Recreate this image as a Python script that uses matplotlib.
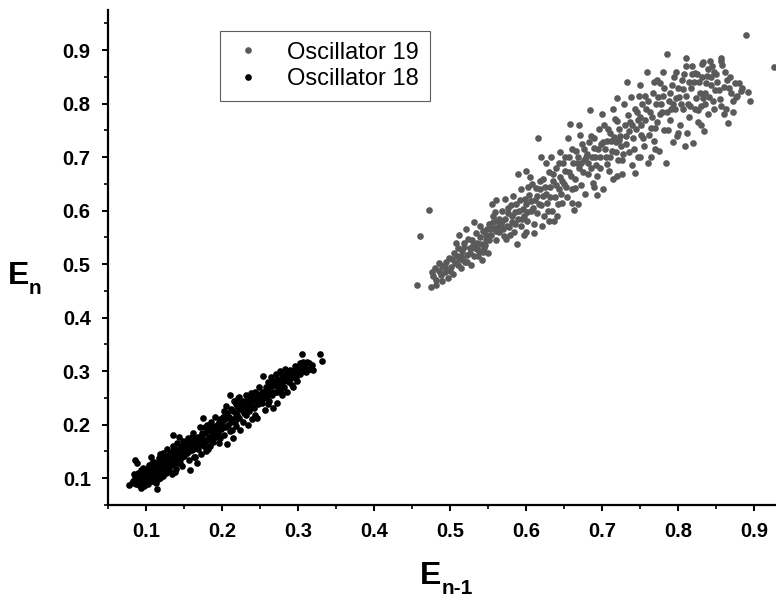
import matplotlib
matplotlib.use("Agg")
import matplotlib.pyplot as plt
from matplotlib.ticker import MultipleLocator

plt.rcParams["font.family"] = ["Liberation Sans", "DejaVu Sans"]

# Oscillator 19 (grey cloud)
osc19 = [
    (0.457, 0.461), (0.475, 0.457), (0.461, 0.553), (0.472, 0.602), (0.478, 0.478), (0.482, 0.470),
    (0.485, 0.488), (0.480, 0.492), (0.488, 0.480), (0.490, 0.497), (0.493, 0.485), (0.495, 0.505),
    (0.497, 0.475), (0.499, 0.512), (0.476, 0.485), (0.486, 0.502),
    (0.502, 0.495), (0.505, 0.520), (0.507, 0.503), (0.510, 0.530), (0.512, 0.510), (0.514, 0.492),
    (0.516, 0.525), (0.518, 0.540), (0.520, 0.505), (0.522, 0.518), (0.524, 0.548), (0.526, 0.530),
    (0.528, 0.498), (0.530, 0.535), (0.532, 0.515), (0.534, 0.558), (0.536, 0.540), (0.538, 0.525),
    (0.540, 0.550), (0.542, 0.508), (0.544, 0.562), (0.546, 0.535), (0.548, 0.545), (0.550, 0.520),
    (0.508, 0.540), (0.521, 0.566), (0.531, 0.578), (0.503, 0.510), (0.515, 0.515), (0.535, 0.528),
    (0.545, 0.530), (0.549, 0.565), (0.539, 0.572), (0.512, 0.555),
    (0.552, 0.575), (0.554, 0.555), (0.556, 0.590), (0.558, 0.568), (0.560, 0.545), (0.562, 0.580),
    (0.564, 0.560), (0.566, 0.572), (0.568, 0.600), (0.570, 0.565), (0.572, 0.585), (0.574, 0.548),
    (0.576, 0.595), (0.578, 0.570), (0.580, 0.610), (0.582, 0.578), (0.584, 0.560), (0.586, 0.598),
    (0.588, 0.537), (0.589, 0.668), (0.590, 0.585), (0.592, 0.620), (0.594, 0.572), (0.596, 0.603),
    (0.598, 0.590), (0.555, 0.612), (0.563, 0.569), (0.567, 0.575), (0.571, 0.552), (0.579, 0.555),
    (0.583, 0.628), (0.597, 0.555), (0.559, 0.598), (0.573, 0.622), (0.593, 0.640),
    (0.600, 0.612), (0.602, 0.580), (0.604, 0.630), (0.606, 0.600), (0.608, 0.650), (0.610, 0.575),
    (0.612, 0.620), (0.614, 0.595), (0.616, 0.736), (0.618, 0.640), (0.620, 0.610), (0.622, 0.660),
    (0.624, 0.590), (0.626, 0.632), (0.628, 0.615), (0.630, 0.672), (0.632, 0.645), (0.634, 0.600),
    (0.636, 0.655), (0.638, 0.625), (0.640, 0.680), (0.641, 0.590), (0.643, 0.640), (0.645, 0.662),
    (0.647, 0.615), (0.649, 0.690), (0.605, 0.662), (0.613, 0.642), (0.621, 0.572), (0.633, 0.700),
    (0.637, 0.580), (0.646, 0.632), (0.611, 0.558), (0.627, 0.690),
    (0.650, 0.650), (0.652, 0.700), (0.654, 0.625), (0.656, 0.672), (0.658, 0.762), (0.660, 0.640),
    (0.662, 0.690), (0.664, 0.660), (0.666, 0.712), (0.668, 0.612), (0.670, 0.680), (0.672, 0.648),
    (0.674, 0.725), (0.676, 0.695), (0.678, 0.632), (0.680, 0.705), (0.682, 0.668), (0.684, 0.788),
    (0.686, 0.740), (0.688, 0.652), (0.690, 0.718), (0.692, 0.685), (0.694, 0.630), (0.696, 0.752),
    (0.698, 0.700), (0.655, 0.735), (0.663, 0.602), (0.671, 0.742), (0.679, 0.700), (0.687, 0.700),
    (0.693, 0.665), (0.699, 0.725), (0.667, 0.690), (0.675, 0.672),
    (0.701, 0.640), (0.703, 0.760), (0.705, 0.700), (0.707, 0.730), (0.709, 0.675), (0.711, 0.745),
    (0.713, 0.712), (0.715, 0.660), (0.717, 0.772), (0.719, 0.728), (0.721, 0.695), (0.723, 0.752),
    (0.725, 0.720), (0.727, 0.668), (0.729, 0.800), (0.731, 0.740), (0.733, 0.840), (0.735, 0.710),
    (0.737, 0.765), (0.739, 0.685), (0.741, 0.735), (0.743, 0.790), (0.745, 0.752), (0.747, 0.700),
    (0.749, 0.815), (0.706, 0.688), (0.714, 0.790), (0.722, 0.732), (0.728, 0.705), (0.736, 0.748),
    (0.744, 0.670), (0.748, 0.770), (0.712, 0.730), (0.738, 0.812),
    (0.751, 0.742), (0.753, 0.800), (0.755, 0.720), (0.757, 0.770), (0.759, 0.859), (0.761, 0.690),
    (0.763, 0.785), (0.765, 0.755), (0.767, 0.820), (0.769, 0.730), (0.771, 0.800), (0.773, 0.765),
    (0.775, 0.712), (0.777, 0.838), (0.779, 0.785), (0.781, 0.750), (0.784, 0.689), (0.786, 0.892),
    (0.788, 0.805), (0.790, 0.770), (0.792, 0.835), (0.794, 0.728), (0.796, 0.790), (0.798, 0.860),
    (0.756, 0.815), (0.764, 0.700), (0.772, 0.845), (0.780, 0.815), (0.787, 0.750), (0.793, 0.800),
    (0.799, 0.740), (0.762, 0.742), (0.776, 0.780),
    (0.801, 0.812), (0.803, 0.760), (0.805, 0.845), (0.807, 0.790), (0.809, 0.720), (0.811, 0.870),
    (0.813, 0.800), (0.815, 0.775), (0.817, 0.830), (0.820, 0.726), (0.822, 0.858), (0.824, 0.810),
    (0.826, 0.765), (0.828, 0.840), (0.830, 0.795), (0.832, 0.875), (0.834, 0.749), (0.836, 0.820),
    (0.838, 0.852), (0.840, 0.780), (0.842, 0.880), (0.844, 0.835), (0.846, 0.805), (0.848, 0.860),
    (0.806, 0.828), (0.812, 0.745), (0.818, 0.855), (0.827, 0.788), (0.835, 0.800), (0.843, 0.850),
    (0.849, 0.825),
    (0.852, 0.840), (0.855, 0.808), (0.858, 0.872), (0.860, 0.832), (0.863, 0.790), (0.866, 0.764),
    (0.868, 0.850), (0.870, 0.820), (0.873, 0.785), (0.876, 0.812), (0.880, 0.838), (0.884, 0.830),
    (0.889, 0.928), (0.892, 0.822), (0.895, 0.805), (0.926, 0.868), (0.856, 0.880), (0.864, 0.845),
    (0.872, 0.805),
    # second pass over the denser parts of the cloud
    (0.481, 0.462), (0.489, 0.468), (0.494, 0.495), (0.500, 0.488), (0.504, 0.482), (0.509, 0.515),
    (0.511, 0.498), (0.517, 0.508), (0.519, 0.532), (0.523, 0.505), (0.527, 0.520), (0.529, 0.545),
    (0.533, 0.530), (0.537, 0.515), (0.541, 0.538), (0.543, 0.522), (0.547, 0.555), (0.551, 0.545),
    (0.553, 0.565), (0.557, 0.578), (0.561, 0.562), (0.565, 0.585), (0.569, 0.580), (0.575, 0.572),
    (0.577, 0.605), (0.581, 0.590), (0.585, 0.575), (0.587, 0.612), (0.591, 0.600), (0.595, 0.585),
    (0.599, 0.622), (0.601, 0.598), (0.603, 0.645), (0.607, 0.618), (0.609, 0.605), (0.615, 0.628),
    (0.617, 0.612), (0.619, 0.655), (0.623, 0.628), (0.625, 0.645), (0.629, 0.600), (0.631, 0.625),
    (0.635, 0.668), (0.639, 0.648), (0.642, 0.612), (0.644, 0.690), (0.648, 0.655), (0.651, 0.675),
    (0.653, 0.645), (0.657, 0.700), (0.659, 0.665), (0.661, 0.715), (0.665, 0.642), (0.669, 0.700),
    (0.673, 0.690), (0.677, 0.715), (0.681, 0.690), (0.683, 0.728), (0.685, 0.680), (0.689, 0.735),
    (0.691, 0.700), (0.695, 0.715), (0.697, 0.680), (0.702, 0.728), (0.704, 0.715), (0.708, 0.752),
    (0.710, 0.700), (0.716, 0.738), (0.718, 0.710), (0.720, 0.768), (0.724, 0.740), (0.726, 0.695),
    (0.730, 0.760), (0.732, 0.725), (0.734, 0.778), (0.740, 0.760), (0.742, 0.715), (0.746, 0.785),
    (0.750, 0.775), (0.752, 0.760), (0.754, 0.735), (0.758, 0.790), (0.760, 0.805), (0.766, 0.775),
    (0.768, 0.840), (0.770, 0.755), (0.774, 0.812), (0.778, 0.800), (0.782, 0.830), (0.785, 0.785),
    (0.789, 0.820), (0.791, 0.790), (0.795, 0.850), (0.797, 0.810), (0.800, 0.830), (0.804, 0.800),
    (0.808, 0.855), (0.810, 0.815), (0.814, 0.840), (0.816, 0.795), (0.819, 0.870), (0.821, 0.840),
    (0.823, 0.790), (0.825, 0.855), (0.829, 0.820), (0.831, 0.850), (0.833, 0.810), (0.837, 0.838),
    (0.839, 0.865), (0.841, 0.812), (0.845, 0.870), (0.847, 0.790), (0.850, 0.855), (0.854, 0.825),
    (0.857, 0.795), (0.862, 0.860), (0.867, 0.830), (0.878, 0.815),
    # loose points along both edges of the cloud
    (0.560, 0.620), (0.600, 0.675), (0.620, 0.700), (0.645, 0.710), (0.670, 0.760), (0.700, 0.780),
    (0.720, 0.810), (0.750, 0.835), (0.780, 0.860), (0.810, 0.885), (0.833, 0.878), (0.857, 0.885),
    (0.600, 0.560), (0.630, 0.580), (0.660, 0.615), (0.690, 0.645), (0.720, 0.665), (0.750, 0.700),
    (0.770, 0.715), (0.800, 0.745), (0.830, 0.760), (0.860, 0.780), (0.883, 0.823), (0.875, 0.838),
]

# Oscillator 18 (black cloud)
osc18 = [
    (0.078, 0.087), (0.082, 0.092), (0.085, 0.100), (0.086, 0.135), (0.088, 0.128), (0.088, 0.095),
    (0.090, 0.110), (0.091, 0.088), (0.092, 0.102), (0.094, 0.115), (0.095, 0.095), (0.096, 0.120),
    (0.097, 0.085), (0.098, 0.105), (0.099, 0.112), (0.100, 0.098), (0.084, 0.107), (0.093, 0.082),
    (0.101, 0.118), (0.102, 0.090), (0.103, 0.108), (0.104, 0.125), (0.105, 0.100), (0.106, 0.140),
    (0.107, 0.112), (0.108, 0.095), (0.109, 0.120), (0.110, 0.105), (0.111, 0.130), (0.112, 0.115),
    (0.113, 0.092), (0.114, 0.079), (0.115, 0.122), (0.116, 0.108), (0.117, 0.138), (0.118, 0.100),
    (0.119, 0.125), (0.120, 0.112), (0.105, 0.118), (0.110, 0.095), (0.115, 0.110), (0.119, 0.145),
    (0.102, 0.103), (0.108, 0.128),
    (0.121, 0.130), (0.122, 0.105), (0.123, 0.148), (0.124, 0.118), (0.125, 0.135), (0.126, 0.110),
    (0.127, 0.125), (0.128, 0.155), (0.129, 0.140), (0.130, 0.115), (0.131, 0.132), (0.132, 0.148),
    (0.133, 0.125), (0.134, 0.108), (0.135, 0.160), (0.136, 0.180), (0.137, 0.140), (0.138, 0.128),
    (0.139, 0.150), (0.140, 0.118), (0.141, 0.165), (0.142, 0.138), (0.143, 0.178), (0.144, 0.145),
    (0.145, 0.128), (0.146, 0.158), (0.147, 0.150), (0.148, 0.122), (0.149, 0.170), (0.150, 0.142),
    (0.125, 0.120), (0.132, 0.138), (0.138, 0.112), (0.144, 0.132), (0.127, 0.142), (0.136, 0.150),
    (0.152, 0.160), (0.154, 0.148), (0.155, 0.175), (0.156, 0.135), (0.158, 0.115), (0.159, 0.165),
    (0.160, 0.152), (0.162, 0.185), (0.163, 0.140), (0.164, 0.170), (0.166, 0.158), (0.167, 0.128),
    (0.168, 0.178), (0.170, 0.162), (0.171, 0.195), (0.172, 0.145), (0.174, 0.175), (0.175, 0.212),
    (0.176, 0.160), (0.178, 0.185), (0.179, 0.150), (0.180, 0.200), (0.182, 0.172), (0.183, 0.190),
    (0.184, 0.160), (0.186, 0.205), (0.187, 0.180), (0.188, 0.168), (0.190, 0.195), (0.191, 0.215),
    (0.192, 0.178), (0.194, 0.200), (0.195, 0.185), (0.196, 0.165), (0.198, 0.210), (0.199, 0.192),
    (0.157, 0.150), (0.165, 0.140), (0.173, 0.168), (0.181, 0.155), (0.189, 0.190), (0.197, 0.175),
    (0.161, 0.178), (0.177, 0.195),
    (0.200, 0.205), (0.202, 0.180), (0.203, 0.225), (0.204, 0.195), (0.206, 0.164), (0.207, 0.215),
    (0.208, 0.200), (0.210, 0.255), (0.211, 0.188), (0.212, 0.230), (0.214, 0.210), (0.215, 0.175),
    (0.216, 0.245), (0.218, 0.220), (0.219, 0.198), (0.220, 0.235), (0.222, 0.212), (0.223, 0.252),
    (0.224, 0.190), (0.226, 0.228), (0.227, 0.245), (0.228, 0.205), (0.230, 0.238), (0.231, 0.218),
    (0.232, 0.255), (0.234, 0.200), (0.235, 0.242), (0.236, 0.225), (0.238, 0.260), (0.239, 0.210),
    (0.240, 0.248), (0.242, 0.232), (0.243, 0.218), (0.244, 0.262), (0.246, 0.212), (0.247, 0.250),
    (0.248, 0.238), (0.249, 0.270), (0.205, 0.235), (0.213, 0.190), (0.221, 0.250), (0.229, 0.222),
    (0.237, 0.240), (0.245, 0.245), (0.217, 0.205), (0.233, 0.232),
    (0.250, 0.255), (0.252, 0.240), (0.254, 0.291), (0.255, 0.262), (0.256, 0.228), (0.258, 0.270),
    (0.259, 0.252), (0.260, 0.280), (0.262, 0.245), (0.263, 0.265), (0.264, 0.290), (0.266, 0.255),
    (0.267, 0.232), (0.268, 0.275), (0.270, 0.262), (0.271, 0.295), (0.272, 0.240), (0.274, 0.282),
    (0.275, 0.268), (0.276, 0.300), (0.278, 0.275), (0.279, 0.255), (0.280, 0.290), (0.282, 0.270),
    (0.283, 0.305), (0.284, 0.285), (0.286, 0.262), (0.287, 0.295), (0.288, 0.280), (0.290, 0.302),
    (0.291, 0.288), (0.292, 0.275), (0.294, 0.270), (0.295, 0.298), (0.296, 0.310), (0.298, 0.290),
    (0.299, 0.282), (0.300, 0.305), (0.302, 0.295), (0.303, 0.315), (0.305, 0.332), (0.306, 0.300),
    (0.308, 0.310), (0.310, 0.298), (0.312, 0.318), (0.315, 0.305), (0.318, 0.312), (0.320, 0.302),
    (0.329, 0.332), (0.331, 0.319), (0.257, 0.258), (0.265, 0.272), (0.273, 0.262), (0.281, 0.282),
    (0.289, 0.292), (0.297, 0.300), (0.261, 0.238), (0.277, 0.262),
    # second pass over the solid middle of the band
    (0.083, 0.095), (0.087, 0.090), (0.089, 0.104), (0.091, 0.098), (0.093, 0.110), (0.096, 0.102),
    (0.099, 0.092), (0.100, 0.108), (0.103, 0.098), (0.104, 0.112), (0.106, 0.105), (0.107, 0.122),
    (0.109, 0.100), (0.111, 0.112), (0.112, 0.125), (0.113, 0.105), (0.114, 0.118), (0.116, 0.098),
    (0.117, 0.115), (0.118, 0.130), (0.120, 0.122), (0.121, 0.115), (0.123, 0.125), (0.124, 0.140),
    (0.126, 0.130), (0.128, 0.120), (0.129, 0.132), (0.131, 0.122), (0.133, 0.145), (0.134, 0.135),
    (0.135, 0.128), (0.137, 0.155), (0.139, 0.138), (0.140, 0.148), (0.142, 0.128), (0.143, 0.155),
    (0.145, 0.148), (0.146, 0.138), (0.148, 0.160), (0.150, 0.155), (0.151, 0.145), (0.153, 0.168),
    (0.155, 0.158), (0.158, 0.172), (0.160, 0.165), (0.162, 0.155), (0.165, 0.175), (0.167, 0.168),
    (0.169, 0.155), (0.171, 0.178), (0.174, 0.185), (0.176, 0.172), (0.178, 0.168), (0.181, 0.190),
    (0.183, 0.178), (0.185, 0.195), (0.188, 0.185), (0.190, 0.178), (0.193, 0.190), (0.196, 0.205),
    (0.198, 0.195), (0.201, 0.215), (0.204, 0.210), (0.206, 0.222), (0.209, 0.215), (0.212, 0.205),
    (0.215, 0.225), (0.218, 0.238), (0.220, 0.218), (0.223, 0.230), (0.225, 0.240), (0.228, 0.232),
    (0.231, 0.245), (0.234, 0.238), (0.237, 0.252), (0.240, 0.235), (0.243, 0.250), (0.246, 0.258),
    (0.249, 0.248), (0.252, 0.262), (0.255, 0.250), (0.258, 0.262), (0.261, 0.268), (0.264, 0.262),
    (0.267, 0.280), (0.270, 0.275), (0.273, 0.285), (0.276, 0.280), (0.279, 0.292), (0.282, 0.290),
    (0.285, 0.298), (0.288, 0.295), (0.291, 0.300), (0.294, 0.290), (0.297, 0.305), (0.301, 0.300),
    (0.304, 0.308), (0.307, 0.318), (0.311, 0.305), (0.314, 0.315), (0.317, 0.305),
]

osc19_x = [p[0] for p in osc19]
osc19_y = [p[1] for p in osc19]
osc18_x = [p[0] for p in osc18]
osc18_y = [p[1] for p in osc18]

fig = plt.figure(figsize=(7.76, 5.98), dpi=100)
ax = fig.add_axes([108 / 776, 93 / 598, 1 - 108 / 776, 495 / 598])

ax.plot(osc19_x, osc19_y, "o", color="#5a5a5a", ms=4.8, mew=0, label="Oscillator 19")
ax.plot(osc18_x, osc18_y, "o", color="black", ms=4.8, mew=0, label="Oscillator 18")

ax.set_xlim(0.05, 0.929)
ax.set_ylim(0.05, 0.975)
ax.set_xticks([0.1, 0.2, 0.3, 0.4, 0.5, 0.6, 0.7, 0.8, 0.9])
ax.set_yticks([0.1, 0.2, 0.3, 0.4, 0.5, 0.6, 0.7, 0.8, 0.9])
ax.xaxis.set_minor_locator(MultipleLocator(0.05))
ax.yaxis.set_minor_locator(MultipleLocator(0.05))

for side in ["top", "right"]:
    ax.spines[side].set_visible(False)
for side in ["left", "bottom"]:
    ax.spines[side].set_linewidth(1.6)

ax.tick_params(which="major", direction="out", length=4.5, width=1.4, pad=8, labelsize=14.5)
ax.tick_params(which="minor", direction="out", length=3, width=1.2)
for lab in ax.get_xticklabels() + ax.get_yticklabels():
    lab.set_fontweight("bold")

# axis labels: big bold E with a smaller bold subscript
fig.text(8 / 776, 1 - 284 / 598, "E", fontsize=23, fontweight="bold", ha="left", va="baseline")
fig.text(29 / 776, 1 - 294 / 598, "n", fontsize=15, fontweight="bold", ha="left", va="baseline")
fig.text(420 / 776, 1 - 584 / 598, "E", fontsize=23, fontweight="bold", ha="left", va="baseline")
fig.text(442 / 776, 1 - 594 / 598, "n-1", fontsize=15, fontweight="bold", ha="left", va="baseline")

leg = ax.legend(loc="upper left", bbox_to_anchor=(220 / 776, 1 - 31 / 598),
                bbox_transform=fig.transFigure, fontsize=17, frameon=True, fancybox=False,
                edgecolor="#333333", borderpad=0.45, handletextpad=0.9, labelspacing=0.2,
                handlelength=1.5, borderaxespad=0)
leg.get_frame().set_linewidth(0.8)

fig.savefig("out.png", dpi=100)
